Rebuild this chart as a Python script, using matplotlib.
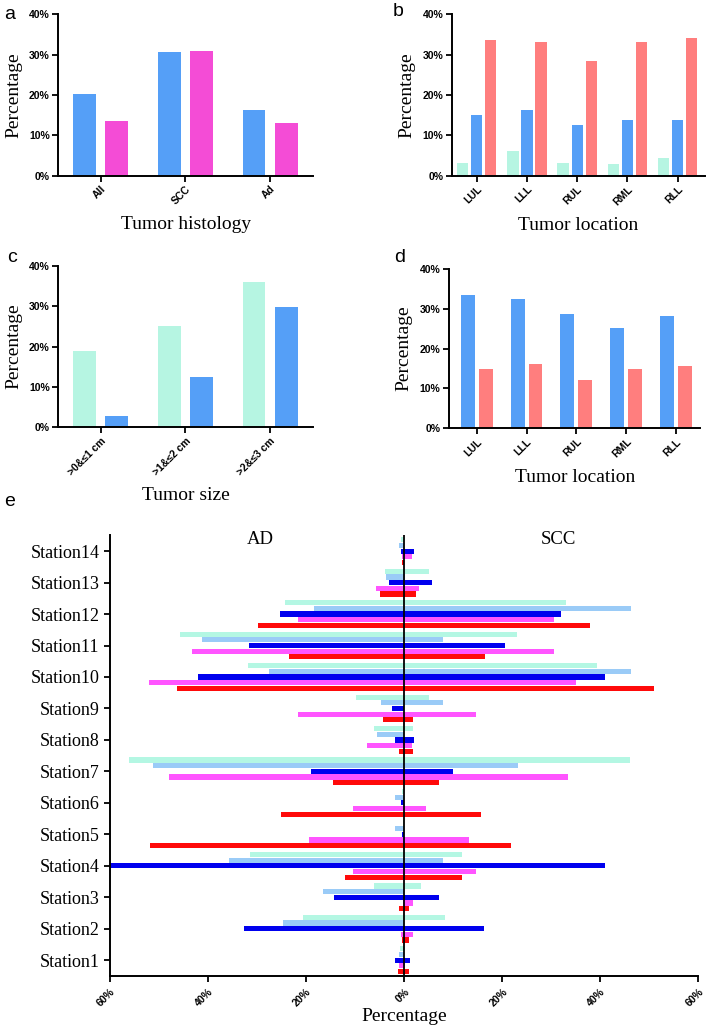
import matplotlib
matplotlib.use("Agg")
import matplotlib.pyplot as plt
import numpy as np
from matplotlib.ticker import FuncFormatter

# ---------------- data ----------------
# Panel a
hist_cats = ["All", "SCC", "Ad"]
hist_blue = [20.3, 30.6, 16.3]
hist_magenta = [13.5, 30.8, 13.0]

# Panel b
loc_cats = ["LUL", "LLL", "RUL", "RML", "RLL"]
b_cyan = [3.2, 6.0, 3.1, 2.9, 4.4]
b_blue = [15.0, 16.4, 12.5, 13.9, 13.8]
b_salmon = [33.6, 33.2, 28.4, 33.2, 34.1]

# Panel c
size_cats = [">0&≤1 cm", ">1&≤2 cm", ">2&≤3 cm"]
c_cyan = [19.0, 25.1, 36.1]
c_blue = [2.8, 12.4, 29.8]

# Panel d
d_blue = [33.4, 32.6, 28.7, 25.2, 28.2]
d_salmon = [14.9, 16.1, 12.2, 15.0, 15.6]

# Panel e (stations 1..14); AD values are plotted to the left, SCC to the right
stations = ["Station%d" % i for i in range(1, 15)]
ad_s1 = [0.9, 20.6, 6.1, 31.5, 0.3, 0.5, 56.1, 6.2, 9.8, 31.9, 45.7, 24.2, 4.0, 0.6]
scc_s1 = [0.0, 8.4, 3.5, 11.8, 0.0, 0.0, 46.0, 1.9, 5.1, 39.4, 23.1, 33.0, 5.0, 0.0]
ad_s2 = [1.1, 24.8, 16.6, 35.8, 1.9, 1.9, 51.3, 5.6, 4.7, 27.6, 41.3, 18.3, 3.7, 1.0]
scc_s2 = [0.0, 0.0, 0.0, 7.9, 0.0, 0.0, 23.2, 0.0, 7.9, 46.3, 7.9, 46.3, 0.2, 0.0]
ad_s3 = [1.8, 32.6, 14.4, 59.9, 0.4, 0.6, 18.9, 1.8, 2.5, 42.1, 31.6, 25.4, 3.0, 0.7]
scc_s3 = [1.2, 16.2, 7.2, 40.9, 0.0, 0.0, 10.0, 2.0, 0.0, 40.9, 20.6, 32.0, 5.6, 2.0]
ad_s4 = [1.0, 0.6, 0.2, 10.5, 19.4, 10.5, 48.0, 7.6, 21.7, 52.1, 43.2, 21.7, 5.7, 0.5]
scc_s4 = [0.2, 1.8, 1.8, 14.6, 13.2, 4.5, 33.5, 1.6, 14.6, 35.0, 30.6, 30.6, 3.1, 1.7]
ad_s5 = [1.2, 0.4, 1.1, 12.0, 51.9, 25.2, 14.6, 1.0, 4.4, 46.3, 23.5, 29.7, 4.9, 0.4]
scc_s5 = [1.0, 1.0, 1.0, 11.8, 21.7, 15.6, 7.1, 1.8, 1.8, 50.9, 16.4, 37.9, 2.5, 0.0]

# ---------------- style ----------------
C_CYAN = "#B6F5E2"
C_BLUE = "#559FF7"
C_MAG = "#F44CD6"
C_SAL = "#FF7E7E"
E_COLORS = ["#B4F7E3", "#9ACBF7", "#0000EE", "#FF55FF", "#FF0A0A"]

SERIF = ["Liberation Serif", "DejaVu Serif"]
SANS = ["Liberation Sans", "DejaVu Sans"]

fig = plt.figure(figsize=(7.09, 10.27), dpi=100)

pct = FuncFormatter(lambda v, p: "%d%%" % round(v))


def style_bar_axes(ax, cats, xlabel):
    ax.spines["top"].set_visible(False)
    ax.spines["right"].set_visible(False)
    for s in ("left", "bottom"):
        ax.spines[s].set_linewidth(1.4)
    ax.set_ylim(0, 40)
    ax.set_yticks([0, 10, 20, 30, 40])
    ax.yaxis.set_major_formatter(pct)
    ax.set_xticks(np.arange(len(cats)))
    ax.set_xticklabels(cats, rotation=45, ha="right", rotation_mode="anchor")
    ax.tick_params(axis="both", length=4, width=1.3, labelsize=7.5, pad=2)
    for lab in ax.get_xticklabels() + ax.get_yticklabels():
        lab.set_fontfamily(SANS)
        lab.set_fontweight("bold")
    ax.set_ylabel("Percentage", fontfamily=SERIF, fontsize=14, labelpad=5)
    ax.set_xlabel(xlabel, fontfamily=SERIF, fontsize=14, labelpad=7)


# Panel a
ax_a = fig.add_axes([0.082, 0.829, 0.36, 0.157])
x = np.arange(len(hist_cats))
ax_a.bar(x - 0.19, hist_blue, width=0.27, color=C_BLUE)
ax_a.bar(x + 0.19, hist_magenta, width=0.27, color=C_MAG)
ax_a.set_xlim(-0.5, 2.51)
style_bar_axes(ax_a, hist_cats, "Tumor histology")

# Panel b
ax_b = fig.add_axes([0.637, 0.829, 0.357, 0.157])
x = np.arange(len(loc_cats))
ax_b.bar(x - 0.28, b_cyan, width=0.225, color=C_CYAN)
ax_b.bar(x, b_blue, width=0.225, color=C_BLUE)
ax_b.bar(x + 0.28, b_salmon, width=0.225, color=C_SAL)
ax_b.set_xlim(-0.5, 4.54)
style_bar_axes(ax_b, loc_cats, "Tumor location")

# Panel c
ax_c = fig.add_axes([0.082, 0.584, 0.36, 0.157])
x = np.arange(len(size_cats))
ax_c.bar(x - 0.19, c_cyan, width=0.27, color=C_CYAN)
ax_c.bar(x + 0.19, c_blue, width=0.27, color=C_BLUE)
ax_c.set_xlim(-0.5, 2.51)
style_bar_axes(ax_c, size_cats, "Tumor size")

# Panel d
ax_d = fig.add_axes([0.633, 0.583, 0.355, 0.155])
x = np.arange(len(loc_cats))
ax_d.bar(x - 0.18, d_blue, width=0.28, color=C_BLUE)
ax_d.bar(x + 0.18, d_salmon, width=0.28, color=C_SAL)
ax_d.set_xlim(-0.56, 4.49)
style_bar_axes(ax_d, loc_cats, "Tumor location")

# Panel e
ax_e = fig.add_axes([0.155, 0.0497, 0.83, 0.429])
y = np.arange(1, 15)
series = [(ad_s1, scc_s1), (ad_s2, scc_s2), (ad_s3, scc_s3), (ad_s4, scc_s4), (ad_s5, scc_s5)]
offsets = [0.36, 0.18, 0.0, -0.18, -0.36]
for (ad, scc), off, col in zip(series, offsets, E_COLORS):
    ad = np.array(ad)
    scc = np.array(scc)
    ax_e.barh(y + off, ad + scc, left=-ad, height=0.165, color=col)
ax_e.axvline(0, color="black", linewidth=1.3)
ax_e.set_xlim(-60, 60)
ax_e.set_ylim(0.5, 14.5)
ax_e.set_yticks(y)
ax_e.set_yticklabels(stations)
ax_e.set_xticks([-60, -40, -20, 0, 20, 40, 60])
ax_e.xaxis.set_major_formatter(FuncFormatter(lambda v, p: "%d%%" % abs(round(v))))
ax_e.spines["top"].set_visible(False)
ax_e.spines["right"].set_visible(False)
for s in ("left", "bottom"):
    ax_e.spines[s].set_linewidth(1.4)
ax_e.tick_params(axis="both", length=4, width=1.3)
for lab in ax_e.get_xticklabels():
    lab.set_fontfamily(SANS)
    lab.set_fontweight("bold")
    lab.set_fontsize(7.5)
    lab.set_rotation(45)
    lab.set_ha("right")
    lab.set_rotation_mode("anchor")
for lab in ax_e.get_yticklabels():
    lab.set_fontfamily(SERIF)
    lab.set_fontsize(13)
ax_e.set_xlabel("Percentage", fontfamily=SERIF, fontsize=14, labelpad=0)
ax_e.text(-29.4, 14.38, "AD", fontfamily=SERIF, fontsize=13.5, ha="center", va="center")
ax_e.text(31.5, 14.38, "SCC", fontfamily=SERIF, fontsize=13.5, ha="center", va="center")

# panel letters
for lbl, (px, py) in {"a": (10, 14), "b": (398, 12), "c": (12, 258), "d": (400, 258), "e": (10, 502)}.items():
    fig.text(px / 709, 1 - py / 1027, lbl, fontfamily=SANS, fontsize=14, ha="center", va="center")

fig.savefig("out.png", dpi=100)
